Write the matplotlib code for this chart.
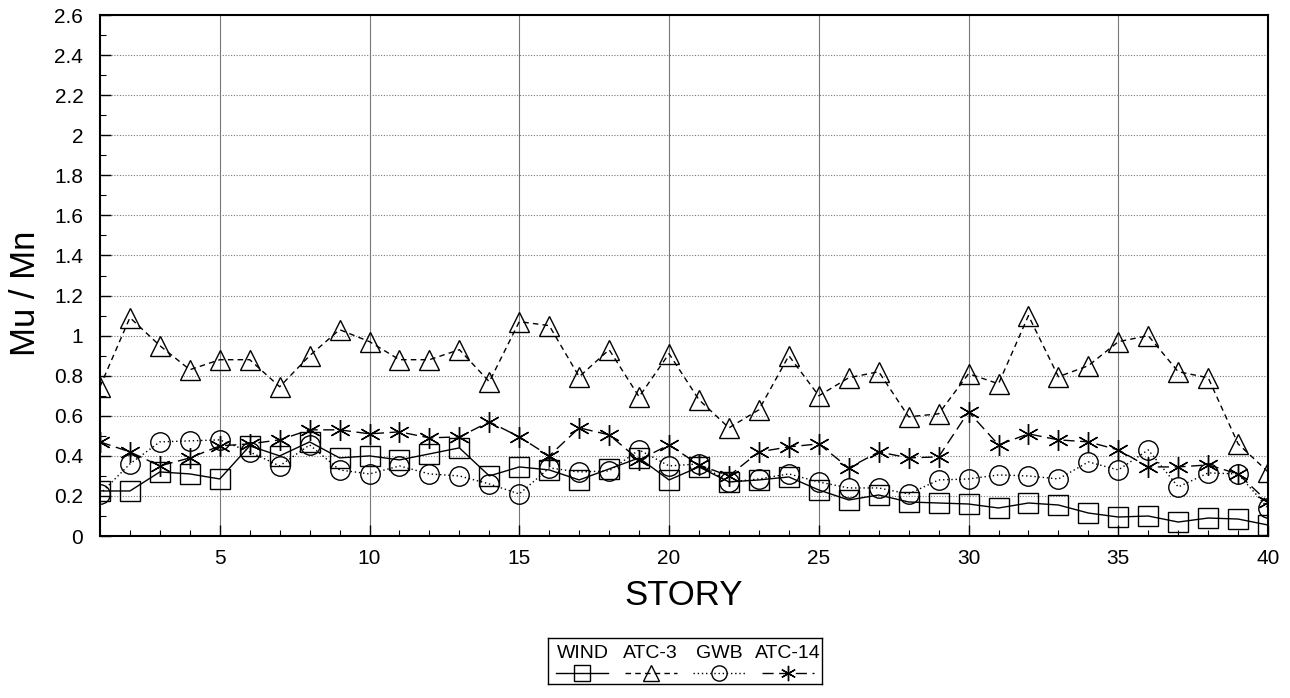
import matplotlib
matplotlib.use("Agg")
import matplotlib.pyplot as plt
from matplotlib.lines import Line2D
from matplotlib.ticker import MultipleLocator, FormatStrFormatter

plt.rcParams['font.family'] = ['Liberation Sans', 'DejaVu Sans']

story = list(range(1, 41))

wind = [0.225, 0.225, 0.32, 0.31, 0.285, 0.45, 0.40, 0.47, 0.39, 0.40,
        0.38, 0.41, 0.44, 0.30, 0.345, 0.33, 0.28, 0.335, 0.39, 0.28,
        0.345, 0.27, 0.28, 0.295, 0.23, 0.18, 0.205, 0.17, 0.165, 0.16,
        0.14, 0.165, 0.155, 0.115, 0.095, 0.10, 0.07, 0.09, 0.085, 0.055]

atc3 = [0.745, 1.09, 0.95, 0.83, 0.88, 0.88, 0.745, 0.90, 1.03, 0.97,
        0.88, 0.88, 0.93, 0.77, 1.07, 1.05, 0.795, 0.93, 0.695, 0.91,
        0.68, 0.54, 0.63, 0.90, 0.70, 0.79, 0.82, 0.595, 0.61, 0.81,
        0.76, 1.10, 0.795, 0.85, 0.97, 1.00, 0.82, 0.79, 0.46, 0.32]

gwb = [0.21, 0.36, 0.47, 0.475, 0.48, 0.42, 0.35, 0.455, 0.33, 0.31,
       0.35, 0.31, 0.30, 0.26, 0.21, 0.34, 0.32, 0.325, 0.43, 0.35,
       0.36, 0.27, 0.285, 0.31, 0.27, 0.24, 0.24, 0.21, 0.28, 0.285,
       0.305, 0.30, 0.285, 0.37, 0.33, 0.43, 0.245, 0.315, 0.31, 0.14]

atc14 = [0.47, 0.42, 0.35, 0.39, 0.45, 0.46, 0.48, 0.53, 0.53, 0.51,
         0.52, 0.49, 0.495, 0.57, 0.495, 0.40, 0.54, 0.505, 0.38, 0.455,
         0.355, 0.30, 0.42, 0.445, 0.46, 0.34, 0.42, 0.39, 0.395, 0.62,
         0.455, 0.51, 0.48, 0.47, 0.43, 0.345, 0.345, 0.355, 0.31, 0.17]

labels = ['WIND', 'ATC-3', 'GWB', 'ATC-14']
series = [wind, atc3, gwb, atc14]
styles = [
    dict(ls='-', marker='s'),
    dict(ls=(0, (4, 3)), marker='^'),
    dict(ls=(0, (1, 2)), marker='o'),
    dict(ls=(0, (8, 4)), marker=(6, 2, 0)),
]

fig = plt.figure(figsize=(12.9, 6.98), dpi=100)
ax = fig.add_axes([0.0775, 0.232, 0.9055, 0.7465])

for vals, st in zip(series, styles):
    ax.plot(story, vals, color='black', lw=1.0, ls=st['ls'], marker=st['marker'],
            ms=14 if st['marker'] != (6, 2, 0) else 15, mfc='none', mec='black',
            mew=1.0, zorder=3)

ax.set_xlim(1, 40)
ax.set_ylim(0, 2.6)
ax.xaxis.set_major_locator(MultipleLocator(5))
ax.xaxis.set_minor_locator(MultipleLocator(1))
ax.yaxis.set_major_locator(MultipleLocator(0.2))
ax.yaxis.set_minor_locator(MultipleLocator(0.1))
ax.yaxis.set_major_formatter(FormatStrFormatter('%g'))
ax.tick_params(axis='both', which='both', direction='in', labelsize=15, top=False, right=False)
ax.tick_params(axis='both', which='major', length=8, width=1)
ax.tick_params(axis='both', which='minor', length=4, width=0.8)
ax.tick_params(axis='x', pad=9)
ax.tick_params(axis='y', pad=12)

ax.grid(axis='y', which='major', color='#777777', ls=(0, (1, 1.5)), lw=0.8)
ax.grid(axis='x', which='major', color='#777777', ls='-', lw=0.8)
ax.set_axisbelow(True)
for sp in ax.spines.values():
    sp.set_linewidth(1.5)

ax.set_xlabel('STORY', fontsize=25, labelpad=8)
ax.set_ylabel('Mu / Mn', fontsize=25)
ax.yaxis.set_label_coords(-0.050, 0.465)

# legend box below the plot, labels above the line samples
lax = fig.add_axes([0.425, 0.02, 0.212, 0.066])
lax.set_xlim(0, 4)
lax.set_ylim(0, 1)
lax.set_xticks([])
lax.set_yticks([])
for sp in lax.spines.values():
    sp.set_linewidth(1.0)
for i, (lab, st) in enumerate(zip(labels, styles)):
    lax.text(i + 0.5, 0.66, lab, ha='center', va='center', fontsize=14)
    lax.add_line(Line2D([i + 0.12, i + 0.88], [0.25, 0.25], color='black', lw=1.0, ls=st['ls']))
    lax.add_line(Line2D([i + 0.5], [0.25], marker=st['marker'], ms=11, mfc='none',
                        mec='black', mew=1.0, ls='none'))

fig.savefig('out.png', dpi=100)
